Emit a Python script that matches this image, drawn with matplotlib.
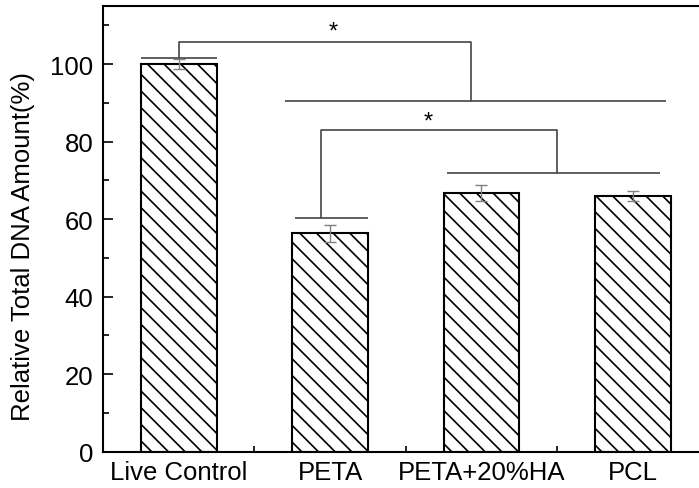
import matplotlib.pyplot as plt
from matplotlib.ticker import MultipleLocator, FixedLocator

# data
groups = ["Live Control", "PETA", "PETA+20%HA", "PCL"]
dna_amount = [100.0, 56.4, 66.7, 65.9]
dna_err = [1.2, 2.2, 2.1, 1.3]


def draw_bracket(ax, pts, color="#444444", lw=1.2):
    xs, ys = zip(*pts)
    ax.plot(xs, ys, color=color, lw=lw, zorder=4, solid_capstyle="butt")


def main():
    plt.rcParams['font.family'] = ['Liberation Sans', 'DejaVu Sans']
    plt.rcParams['hatch.linewidth'] = 1.2

    fig = plt.figure(figsize=(6.99, 4.89), dpi=100)
    ax = fig.add_axes([0.1474, 0.0742, 0.866, 0.9115])

    x = list(range(1, len(groups) + 1))
    ax.bar(x, dna_amount, width=0.5, facecolor="white", edgecolor="black",
           linewidth=1.5, hatch="\\\\", zorder=2)
    ax.errorbar(x, dna_amount, yerr=dna_err, fmt="none", ecolor="#808080",
                elinewidth=1.0, capsize=4, capthick=1.0, zorder=3)

    # significance brackets
    draw_bracket(ax, [(0.75, 101.7), (1.25, 101.7)])
    draw_bracket(ax, [(1.0, 101.7), (1.0, 105.7), (2.93, 105.7), (2.93, 90.6)])
    draw_bracket(ax, [(1.705, 90.6), (4.22, 90.6)])
    ax.text(2.02, 108.3, "*", ha="center", va="center", fontsize=17)

    draw_bracket(ax, [(1.77, 60.4), (2.25, 60.4)])
    draw_bracket(ax, [(1.94, 60.4), (1.94, 83.0), (3.5, 83.0), (3.5, 71.9)])
    draw_bracket(ax, [(2.77, 71.9), (4.18, 71.9)])
    ax.text(2.65, 85.2, "*", ha="center", va="center", fontsize=17)

    ax.set_xlim(0.5, 4.5)
    ax.set_ylim(0, 115)
    ax.set_xticks(x)
    ax.set_xticklabels(groups)
    ax.xaxis.set_minor_locator(FixedLocator([1.5, 2.5, 3.5]))
    ax.yaxis.set_major_locator(MultipleLocator(20))
    ax.yaxis.set_minor_locator(MultipleLocator(10))
    ax.tick_params(which="both", direction="in", width=1.2, labelsize=18.5,
                   top=False, right=False)
    ax.tick_params(which="major", length=7)
    ax.tick_params(which="minor", length=4)
    ax.tick_params(axis="x", pad=6)
    ax.tick_params(axis="y", pad=7)
    ax.set_ylabel("Relative Total DNA Amount(%)", fontsize=18.5)
    ax.yaxis.set_label_coords(-0.113, 0.462)

    for s in ax.spines.values():
        s.set_linewidth(1.5)

    fig.savefig("out.png", dpi=100)


if __name__ == "__main__":
    main()
